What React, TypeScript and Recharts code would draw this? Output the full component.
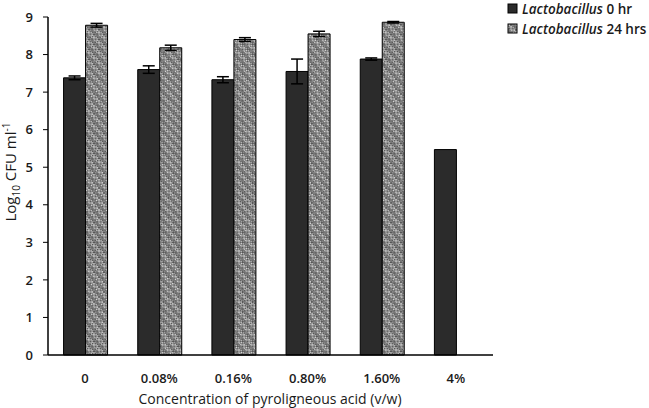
import React from 'react'
import { BarChart, Bar, XAxis, YAxis, ErrorBar } from 'recharts'

const concentrations = ['0', '0.08%', '0.16%', '0.80%', '1.60%', '4%']
const hr0 = [7.38, 7.6, 7.33, 7.55, 7.88, 5.47]
const hr0Err = [0.05, 0.1, 0.08, 0.33, 0.03, 0]
const hr24: (number | null)[] = [8.78, 8.18, 8.4, 8.55, 8.86, null]
const hr24Err = [0.05, 0.07, 0.05, 0.07, 0.02, 0]
const yTicks = [0, 1, 2, 3, 4, 5, 6, 7, 8, 9]

const data = concentrations.map((c, i) => ({
  name: c,
  hr0: hr0[i],
  hr0Err: hr0Err[i] || undefined,
  hr24: hr24[i],
  hr24Err: hr24Err[i] || undefined,
}))

const FONT = '"Open Sans", "Noto Sans", sans-serif'
const INK = '#1a1a1a'

function YLabel() {
  return (
    <text
      x={16}
      y={172}
      transform="rotate(-90 16 172)"
      textAnchor="middle"
      fontFamily={FONT}
      fontSize={15}
      fill={INK}
    >
      Log
      <tspan fontSize={10} dy={4}>10</tspan>
      <tspan dy={-4}> CFU ml</tspan>
      <tspan fontSize={10} dy={-6}>-1</tspan>
    </text>
  )
}

function XLabel() {
  return (
    <text x={270} y={404} textAnchor="middle" fontFamily={FONT} fontSize={14} fill={INK}>
      Concentration of pyroligneous acid (v/w)
    </text>
  )
}

// legend drawn by hand, outside the chart so it doesn't eat plot space
function LegendBox() {
  const rows = [
    { fill: '#2b2b2b', label: ' 0 hr' },
    { fill: 'url(#hatch)', label: ' 24 hrs' },
  ]
  return (
    <svg width={145} height={44} style={{ position: 'absolute', left: 506, top: 0 }}>
      {rows.map((r, i) => (
        <g key={i} transform={`translate(0 ${i * 20})`}>
          <rect x={2} y={4} width={9} height={9} fill={r.fill} stroke="#000" strokeWidth={1} />
          <text x={16} y={14} fontFamily={FONT} fontSize={13.5} fontWeight={600} fill={INK}>
            <tspan fontStyle="italic">Lactobacillus</tspan>
            {r.label}
          </text>
        </g>
      ))}
    </svg>
  )
}

export default function App() {
  return (
    <div style={{ position: 'absolute', left: 0, top: 0, width: 649, height: 408, background: '#fff' }}>
      <BarChart
        width={649}
        height={408}
        data={data}
        margin={{ top: 17, right: 156, bottom: 23, left: 0 }}
        barCategoryGap="21%"
        barGap={0}
      >
        <defs>
          <pattern id="checker" width={2} height={2} patternUnits="userSpaceOnUse">
            <rect width={2} height={2} fill="#d8d8d8" />
            <rect width={1} height={1} fill="#555" />
            <rect x={1} y={1} width={1} height={1} fill="#555" />
          </pattern>
          <pattern
            id="hatch"
            width={7}
            height={7}
            patternUnits="userSpaceOnUse"
            patternTransform="rotate(-45)"
          >
            <rect width={7} height={7} fill="url(#checker)" />
            <rect width={3} height={7} fill="#5a5a5a" opacity={0.55} />
          </pattern>
        </defs>
        <XAxis
          dataKey="name"
          height={30}
          axisLine={{ stroke: '#000', strokeWidth: 1.5 }}
          tickLine={false}
          tickMargin={13}
          tick={{ fontFamily: FONT, fontSize: 13, fill: INK, fontWeight: 600 }}
          label={<XLabel />}
        />
        <YAxis
          width={48}
          domain={[0, 9]}
          ticks={yTicks}
          interval={0}
          axisLine={{ stroke: '#000', strokeWidth: 1.5 }}
          tickLine={{ stroke: '#000' }}
          tickSize={5}
          tickMargin={10}
          tick={{ fontFamily: FONT, fontSize: 13, fill: INK, fontWeight: 600 }}
          label={<YLabel />}
        />
        <Bar dataKey="hr0" fill="#2b2b2b" stroke="#000" strokeWidth={1} isAnimationActive={false}>
          <ErrorBar dataKey="hr0Err" width={6} stroke="#000" strokeWidth={1.5} />
        </Bar>
        <Bar dataKey="hr24" fill="url(#hatch)" stroke="#000" strokeWidth={1} isAnimationActive={false}>
          <ErrorBar dataKey="hr24Err" width={6} stroke="#000" strokeWidth={1.5} />
        </Bar>
      </BarChart>
      <LegendBox />
    </div>
  )
}
